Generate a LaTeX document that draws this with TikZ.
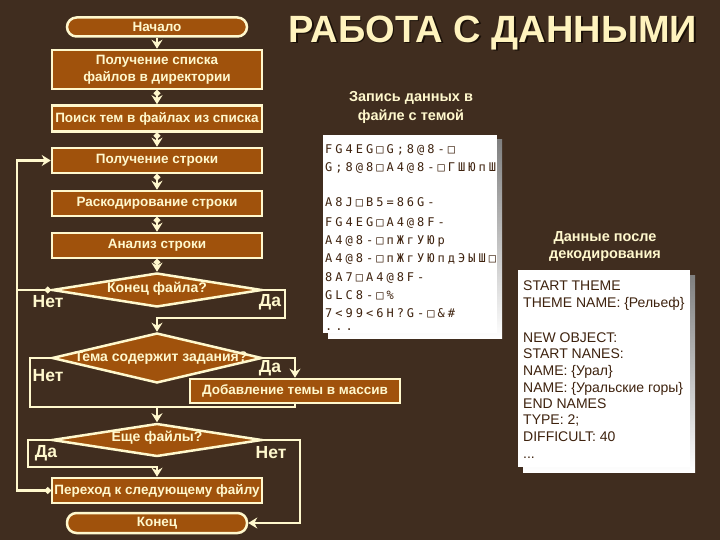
\documentclass[tikz,border=0pt]{standalone}
\usepackage{fontspec}
\setmainfont{Liberation Sans}
\newfontfamily\garbfont[LetterSpace=25]{DejaVu Sans Mono}
\usetikzlibrary{shapes.geometric,arrows.meta}

\definecolor{wood}{RGB}{64,45,31}
\definecolor{boxfill}{RGB}{160,82,12}
\definecolor{cream}{RGB}{255,248,205}
\definecolor{titlecol}{RGB}{255,243,190}
\definecolor{inkbrown}{RGB}{62,34,14}
\definecolor{shade}{RGB}{26,16,8}
\newcommand{\tridots}{...}

\begin{document}
\begin{tikzpicture}[x=1pt,y=-1pt,
  blok/.style={draw=cream,line width=2.5pt,fill=boxfill,text=cream,
    font=\bfseries\fontsize{13.5}{17}\selectfont,minimum width=210pt,
    inner sep=0pt,align=center},
  term/.style={blok,rounded corners=9.5pt,minimum width=180pt,minimum height=19pt},
  decision/.style={diamond,draw=cream,line width=2.5pt,fill=boxfill,
    minimum width=210pt,inner sep=0pt},
  dtext/.style={text=cream,font=\bfseries\fontsize{14}{15}\selectfont,inner sep=0pt},
  answer/.style={text=cream,font=\bfseries\fontsize{17.5}{18}\selectfont,inner sep=0pt},
  captext/.style={text=cream,font=\bfseries\fontsize{14.5}{19}\selectfont,
    inner sep=0pt,align=center},
  flow/.style={draw=cream,line width=2.5pt},
  flowarrow/.style={flow,-{Stealth[length=9pt,width=11pt]}},
  dotarrow/.style={flow,{Circle[length=6pt]}-{Stealth[length=9pt,width=11pt]}},
  dotline/.style={flow,{Circle[length=6pt]}-},
  garb/.style={text=inkbrown,font=\garbfont\fontsize{12}{14}\selectfont,
    inner sep=0pt,anchor=base west},
  plain/.style={text=inkbrown,font=\fontsize{14}{16}\selectfont,
    inner sep=0pt,anchor=base west}
]

% background
\fill[wood] (0,0) rectangle (720,540);

% title
\node[text=shade,font=\bfseries\fontsize{38}{40}\selectfont] (titleshadow) at (494.5,34.5) {РАБОТА С ДАННЫМИ};
\node[text=titlecol,font=\bfseries\fontsize{38}{40}\selectfont] (title) at (493,33) {РАБОТА С ДАННЫМИ};

% flow chart
\node[term] (start) at (157,27) {Начало};
\node[blok,minimum height=39pt] (b1) at (157,69.5) {Получение списка\\файлов в директории};
\node[blok,minimum height=26pt] (b2) at (157,118.5) {Поиск тем в файлах из списка};
\node[blok,minimum height=25pt] (b3) at (157,160.5) {Получение строки};
\node[blok,minimum height=25pt] (b4) at (157,203.5) {Раскодирование строки};
\node[blok,minimum height=25pt] (b5) at (157,245.5) {Анализ строки};

\node[decision,minimum height=34pt] (d1) at (157,290) {};
\node[dtext] (d1t) at (157,289) {Конец файла?};
\node[decision,minimum height=50pt] (d2) at (157,358) {};
\node[dtext] (d2t) at (161,358) {Тема содержит задания?};
\node[blok,minimum height=24pt] (add) at (295,391) {Добавление темы в массив};
\node[decision,minimum height=33pt] (d3) at (157,440) {};
\node[dtext] (d3t) at (157,438) {Еще файлы?};
\node[blok,minimum height=25pt] (b7) at (157,490.5) {Переход к следующему файлу};
\node[term,minimum height=20pt] (stop) at (157,523) {Конец};

\node[answer] (no1) at (48,302) {Нет};
\node[answer] (yes1) at (270,302) {Да};
\node[answer] (no2) at (48,376) {Нет};
\node[answer] (yes2) at (270,368) {Да};
\node[answer] (yes3) at (46,453) {Да};
\node[answer] (no3) at (271,453) {Нет};

\coordinate (lft) at (17,0);
\coordinate (j1) at (285,318);
\coordinate (j2) at (157,407);
\coordinate (j2l) at (30,407);
\coordinate (j3l) at (28,467);
\coordinate (rgt) at (300,440);

\draw[flowarrow] (start.south) -- (b1.north);
\draw[dotarrow] (b1.south) -- (b2.north);
\draw[dotarrow] (b2.south) -- (b3.north);
\draw[dotarrow] (b3.south) -- (b4.north);
\draw[dotarrow] (b4.south) -- (b5.north);
\draw[dotarrow] (b5.south) -- (d1.north);
\draw[dotarrow] (d1.west) -- (d1.west -| lft) |- (b3.west);
\draw[dotline] (b7.west) -- (b7.west -| lft) -- (d1.west -| lft);
\draw[flowarrow] (d1.east) -| (j1) -| (d2.north);
\draw[flow] (d2.west) -| (j2l) -- (j2);
\draw[flowarrow] (d2.east) -| (add.north);
\draw[flow] (add.south) |- (j2);
\draw[flowarrow] (j2) -- (d3.north);
\draw[flowarrow] (d3.west) -| (j3l) -| (b7.north);
\draw[flowarrow] (d3.east) -- (rgt) |- (stop.east);

% raw record panel
\node[captext] (rectitle) at (411,107) {Запись данных в\\файле с темой};
\fill[shade] (328,140) rectangle (502,338);
\fill[white] (323,135) rectangle (497,333);
\begin{scope}
\clip (323,135) rectangle (497,333);
\foreach \y/\t in {154/FG4EG□G;8@8-□,
                   172/G;8@8□A4@8-□ГШЮпШз□УХ,
                   207/A8J□B5=86G-,
                   226/FG4EG□A4@8F-,
                   244/A4@8-□пЖгУЮр,
                   262/A4@8-□пЖгУЮпдЭЫШ□бгХ,
                   281/8A7□A4@8F-,
                   299/GLC8-□\%,
                   317/7<99<6H?G-□\&\#,
                   330/\tridots}
  \node[garb] (rec\y) at (325,\y) {\t};
\end{scope}

% decoded panel
\node[captext,font=\bfseries\fontsize{14.5}{17}\selectfont] (dectitle) at (605,247) {Данные после\\декодирования};
\fill[shade] (523,275) rectangle (695,472);
\fill[white] (518,270) rectangle (690,467);
\foreach \y/\t in {290/START THEME,
                   307/THEME NAME: \{Рельеф\},
                   342/NEW OBJECT:,
                   358/START NANES:,
                   375/NAME: \{Урал\},
                   392/NAME: \{Уральские горы\},
                   408/END NAMES,
                   424/TYPE: 2;,
                   441/DIFFICULT: 40,
                   458/\tridots}
  \node[plain] (dec\y) at (523,\y) {\t};

\end{tikzpicture}
\end{document}
